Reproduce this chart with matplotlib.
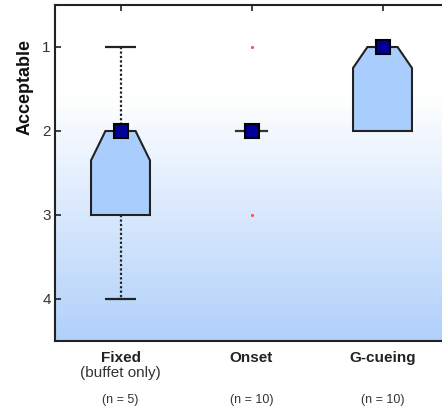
import numpy as np
import matplotlib
matplotlib.use("Agg")
import matplotlib.pyplot as plt
from matplotlib.colors import to_rgb

# ---- data ----
categories = ["Fixed", "Onset", "G-cueing"]
subtitles = ["(buffet only)", "", ""]
n_labels = ["(n = 5)", "(n = 10)", "(n = 10)"]
medians = [2, 2, 1]
q1 = [2, 2, 1]
q3 = [3, 2, 2]
whisker_lo = [1, 2, 1]
whisker_hi = [4, 2, 2]
notch_depth = [0.35, 0.0, 0.25]
outliers = [[], [1, 3], []]
yticks = [1, 2, 3, 4]

plt.rcParams['font.family'] = ['Liberation Sans', 'DejaVu Sans']

fig = plt.figure(figsize=(4.42, 4.12), dpi=100)
ax = fig.add_axes([55/442, 71/412, 393/442, 336/412])

# background gradient (white at top to light blue at bottom)
ny = 400
ypix = np.linspace(5, 341, ny)  # top to bottom
top_c = np.array([1.0, 1.0, 1.0])
bot_c = np.array([176, 208, 250]) / 255
t = np.clip((ypix - 95) / (341 - 95), 0, 1)
grad = top_c[None, :] * (1 - t[:, None]) + bot_c[None, :] * t[:, None]
grad = grad[:, None, :]
ax.imshow(grad, extent=[0, 1, 0, 1], transform=ax.transAxes, aspect='auto', zorder=0)

box_half = 0.225
notch_half = 0.115
cap_half = 0.12
face = '#a9cdfc'
edge = '#222222'
pos = np.arange(1, len(categories) + 1)

for i, p in enumerate(pos):
    m = medians[i]
    # whiskers
    if whisker_lo[i] < q1[i]:
        ax.plot([p, p], [whisker_lo[i], q1[i]], color='#222222', lw=1.6, ls=(0, (1, 1)), zorder=2)
        ax.plot([p - cap_half, p + cap_half], [whisker_lo[i]] * 2, color='#222222', lw=1.6, zorder=2,
                solid_capstyle='butt')
    if whisker_hi[i] > q3[i]:
        ax.plot([p, p], [q3[i], whisker_hi[i]], color='#222222', lw=1.6, ls=(0, (1, 1)), zorder=2)
        ax.plot([p - cap_half, p + cap_half], [whisker_hi[i]] * 2, color='#222222', lw=1.6, zorder=2,
                solid_capstyle='butt')
    # box
    if q3[i] > q1[i]:
        nd = m + notch_depth[i]
        xs = [p - notch_half, p + notch_half, p + box_half, p + box_half, p - box_half, p - box_half]
        ys = [m, m, nd, q3[i], q3[i], nd]
        ax.fill(xs, ys, facecolor=face, edgecolor=edge, lw=1.5, zorder=3, joinstyle='miter')
    else:
        ax.plot([p - notch_half, p + notch_half], [m, m], color='#333333', lw=1.6, zorder=3)
    # outliers
    for o in outliers[i]:
        ax.plot(p, o, '.', color='#ff5050', markersize=2.5, zorder=4)
    # median marker
    ax.plot(p, m, 's', color='#000099', markeredgecolor='black', markeredgewidth=1.5,
            markersize=10, zorder=5)

ax.set_xlim(0.5, 3.5)
ax.set_ylim(4.5, 0.5)
ax.set_yticks(yticks)
ax.set_yticklabels([str(v) for v in yticks], fontsize=11, color='#333333')
ax.set_xticks(pos)
ax.tick_params(axis='x', top=True, bottom=False, labelbottom=False, direction='in', length=4,
               width=1.2, color='#222222')
ax.tick_params(axis='y', left=True, right=False, direction='in', length=4, width=1.2,
               color='#222222', pad=3)
for s in ax.spines.values():
    s.set_linewidth(1.5)
    s.set_color('#222222')

ax.text(-0.077, 0.755, 'Acceptable', transform=ax.transAxes, rotation=90, ha='center', va='center',
        fontsize=13, fontweight='bold', color='#111111')

for i, p in enumerate(pos):
    ax.text(p, 4.5 + 17/84, categories[i], ha='center', va='center', fontsize=11,
            fontweight='bold', color='#222222', clip_on=False)
    if subtitles[i]:
        ax.text(p, 4.5 + 32/84, subtitles[i], ha='center', va='center', fontsize=11,
                color='#333333', clip_on=False)
    ax.text(p, 4.5 + 59/84, n_labels[i], ha='center', va='center', fontsize=9,
            color='#333333', clip_on=False)

fig.savefig('out.png', dpi=100)
